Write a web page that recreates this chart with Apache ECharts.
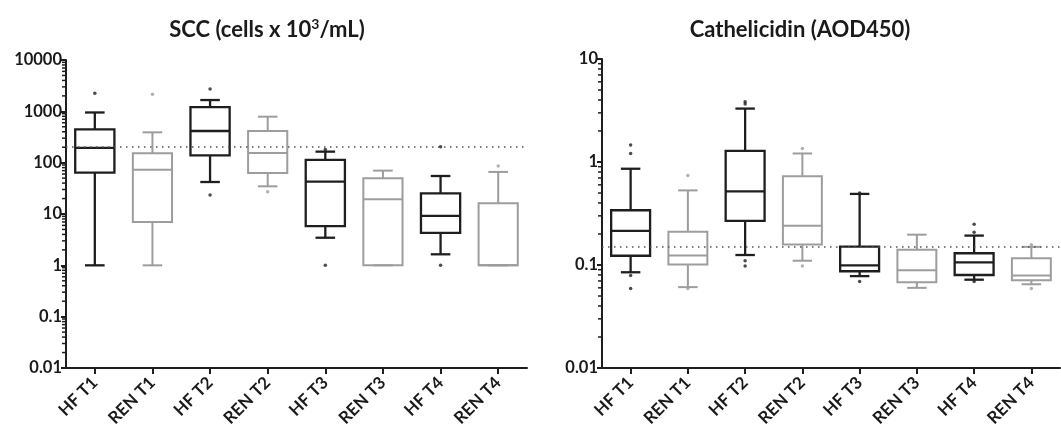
<!DOCTYPE html>
<html><head><meta charset="utf-8">
<script src="https://cdn.jsdelivr.net/npm/echarts@6/dist/echarts.min.js"></script>
<style>html,body{margin:0;padding:0;background:#fff}#c{width:1061px;height:431px}</style>
</head><body><div id="c"></div>
<script>
const categories = ['HF T1','REN T1','HF T2','REN T2','HF T3','REN T3','HF T4','REN T4'];
const titles = ['SCC (cells x 10{sup|3}/mL)', 'Cathelicidin (AOD450)'];
// each box: [min, Q1, median, Q3, max]
const sccBoxes = [
  [1, 64, 195, 447, 950],
  [1, 7, 73, 152, 390],
  [42, 139, 414, 1210, 1660],
  [34.6, 63, 154, 414, 787],
  [3.45, 5.8, 42.6, 113, 164],
  [1, 1, 19.3, 49.6, 70],
  [1.64, 4.3, 9.2, 25.3, 55],
  [1, 1, 1, 16.2, 66]
];
const sccOutliers = [[0,2240],[1,2150],[2,2720],[2,23.5],[3,27],[4,180],[4,1],[6,204],[6,1],[7,86]];
const cathBoxes = [
  [0.085, 0.123, 0.214, 0.34, 0.86],
  [0.061, 0.101, 0.124, 0.21, 0.53],
  [0.125, 0.268, 0.518, 1.28, 3.3],
  [0.11, 0.158, 0.24, 0.726, 1.21],
  [0.078, 0.087, 0.099, 0.151, 0.49],
  [0.06, 0.068, 0.089, 0.141, 0.197],
  [0.072, 0.08, 0.106, 0.13, 0.193],
  [0.065, 0.071, 0.079, 0.116, 0.15]
];
const cathOutliers = [[0,1.46],[0,1.21],[0,0.079],[0,0.059],[1,0.74],[1,0.059],[2,3.84],[2,3.65],[2,0.11],[2,0.098],[3,1.35],[3,0.098],[4,0.5],[4,0.069],[6,0.249],[6,0.208],[6,0.069],[7,0.157],[7,0.059]];
const sccThreshold = 200;
const cathThreshold = 0.15;
const sccTicks = ['0.01','0.1','1','10','100','1000','10000'];
const cathTicks = ['0.01','0.1','1','10'];

const BLACK = '#1e1e1e', GRAY = '#9d9d9d';
const FONT = 'Lato';
const colorOf = i => categories[i].startsWith('HF') ? BLACK : GRAY;

function minorValues(minExp, maxExp) {
  const out = [];
  for (let k = minExp; k < maxExp; k++) for (let m = 2; m <= 9; m++) out.push([0, m * Math.pow(10, k)]);
  return out;
}

function renderBox(params, api) {
  const i = api.value(0);
  const band = api.size([1, 1])[0];
  const bw = band * 0.68, cw = band * 0.34;
  const c = colorOf(i);
  const lw = c === BLACK ? 2.3 : 2;
  const p = k => api.coord([i, api.value(k)]);
  const cx = p(1)[0];
  const yMin = p(1)[1], yQ1 = p(2)[1], yMed = p(3)[1], yQ3 = p(4)[1], yMax = p(5)[1];
  const st = { stroke: c, lineWidth: lw, fill: null };
  const line = (x1, y1, x2, y2) => ({ type: 'line', shape: { x1, y1, x2, y2 }, style: st });
  return {
    type: 'group',
    children: [
      line(cx, yQ3, cx, yMax),
      line(cx, yQ1, cx, yMin),
      line(cx - cw / 2, yMax, cx + cw / 2, yMax),
      line(cx - cw / 2, yMin, cx + cw / 2, yMin),
      { type: 'rect', shape: { x: cx - bw / 2, y: yQ3, width: bw, height: yQ1 - yQ3 }, style: { stroke: c, lineWidth: lw, fill: 'rgba(0,0,0,0)' } },
      line(cx - bw / 2, yMed, cx + bw / 2, yMed)
    ]
  };
}

function renderMinor(params, api) {
  const pt = api.coord([0, api.value(1)]);
  const x0 = params.coordSys.x;
  return { type: 'line', shape: { x1: x0 - 4, y1: pt[1], x2: x0, y2: pt[1] }, style: { stroke: BLACK, lineWidth: 1.5 } };
}

function yAxisCfg(gi, min, max, ticks) {
  return {
    type: 'log', logBase: 10, min, max, gridIndex: gi,
    axisLine: { show: true, lineStyle: { color: BLACK, width: 2 } },
    axisTick: { show: true, length: 5, lineStyle: { color: BLACK, width: 2 } },
    splitLine: { show: false },
    axisLabel: {
      margin: 4, color: '#1a1a1a', fontFamily: FONT, fontWeight: 'bold', fontSize: 16.5,
      formatter: v => { const s = String(+(+v).toPrecision(3)); return ticks.includes(s) ? s : ''; }
    }
  };
}
function xAxisCfg(gi) {
  return {
    type: 'category', data: categories, gridIndex: gi, boundaryGap: true,
    axisLine: { show: true, lineStyle: { color: BLACK, width: 2 } },
    axisTick: { show: true, alignWithLabel: true, length: 6, lineStyle: { color: BLACK, width: 2 } },
    axisLabel: { rotate: 45, margin: 12, color: '#1a1a1a', fontFamily: FONT, fontWeight: 'bold', fontSize: 17, interval: 0 }
  };
}
function refLine(v) {
  return { silent: true, symbol: 'none', label: { show: false }, animation: false,
    lineStyle: { type: [1.5, 4.5], color: '#555', width: 1.6 }, data: [{ yAxis: v }] };
}
function boxData(boxes) { return boxes.map((b, i) => [i].concat(b)); }
function outlierSeries(gi, pts, thr) {
  return {
    type: 'scatter', xAxisIndex: gi, yAxisIndex: gi, symbolSize: 3.5, animation: false,
    data: pts.map(p => ({ value: p, itemStyle: { color: colorOf(p[0]) } })),
    markLine: refLine(thr), z: 3
  };
}
const titleStyle = {
  fontFamily: FONT, fontWeight: 'bold', fontSize: 22, lineHeight: 26, color: '#1a1a1a',
  rich: { sup: { fontFamily: FONT, fontWeight: 'bold', fontSize: 14, lineHeight: 12, verticalAlign: 'top', color: '#1a1a1a' } }
};

const chart = echarts.init(document.getElementById('c'), null, { renderer: 'canvas' });
chart.setOption({
  animation: false,
  backgroundColor: '#fff',
  title: [
    { text: titles[0], left: 262, top: 12, textAlign: 'center', textStyle: titleStyle },
    { text: titles[1], left: 795, top: 12, textAlign: 'center', textStyle: titleStyle }
  ],
  grid: [
    { left: 66, top: 60, width: 461, height: 308 },
    { left: 602, top: 59, width: 458, height: 309 }
  ],
  xAxis: [xAxisCfg(0), xAxisCfg(1)],
  yAxis: [yAxisCfg(0, 0.01, 10000, sccTicks), yAxisCfg(1, 0.01, 10, cathTicks)],
  series: [
    { type: 'custom', xAxisIndex: 0, yAxisIndex: 0, renderItem: renderBox, data: boxData(sccBoxes), z: 2 },
    outlierSeries(0, sccOutliers, sccThreshold),
    { type: 'custom', xAxisIndex: 0, yAxisIndex: 0, renderItem: renderMinor, data: minorValues(-2, 4), clip: false, silent: true },
    { type: 'custom', xAxisIndex: 1, yAxisIndex: 1, renderItem: renderBox, data: boxData(cathBoxes), z: 2 },
    outlierSeries(1, cathOutliers, cathThreshold),
    { type: 'custom', xAxisIndex: 1, yAxisIndex: 1, renderItem: renderMinor, data: minorValues(-2, 1), clip: false, silent: true }
  ]
});
</script></body></html>
